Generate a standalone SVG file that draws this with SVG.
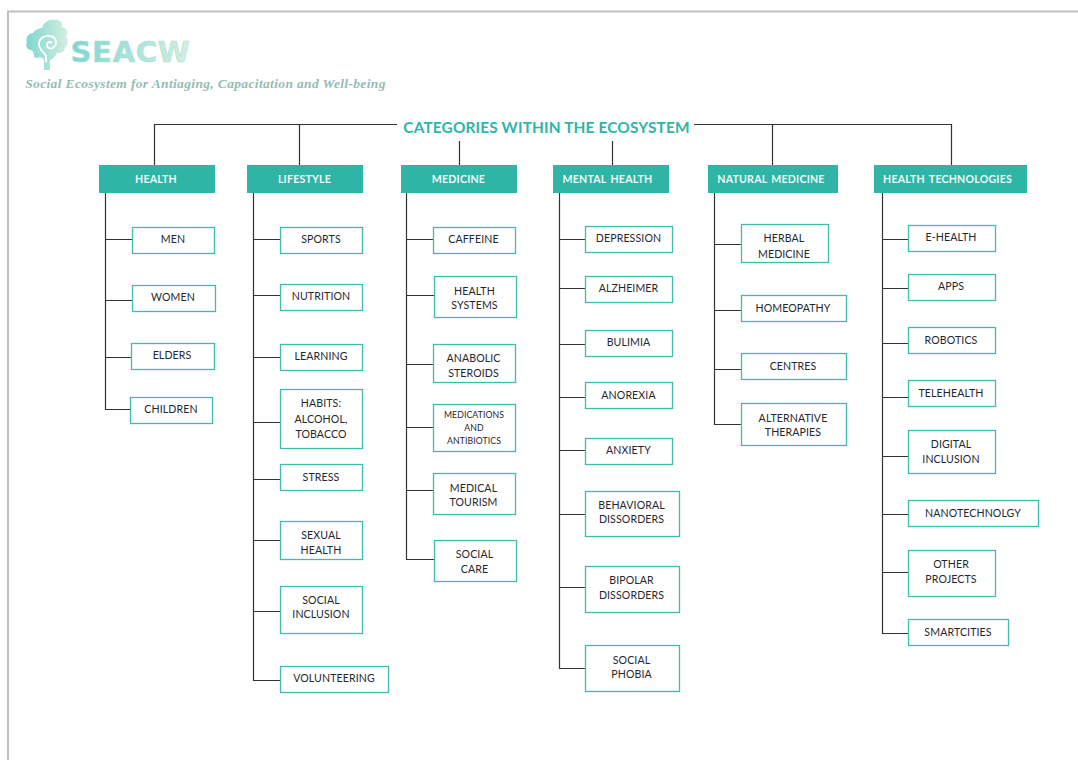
<svg xmlns="http://www.w3.org/2000/svg" width="1078" height="760" viewBox="0 0 1078 760">
<style>
text{font-family:"Lato","Carlito","Open Sans",sans-serif;text-anchor:middle}
.cat rect{fill:#2eb5a6;stroke:#2eb5a6;stroke-width:1}
.cat text{fill:#eefaf7;font-size:10.600px;font-weight:700;letter-spacing:.2px;word-spacing:1.500px}
.item rect{fill:#fff;stroke:#3dbdae;stroke-width:1.3}
.item text{fill:#1f2730;font-size:10.600px;letter-spacing:.1px}
.c{fill:none;stroke:#333;stroke-width:1.2}
</style>
<defs>
<linearGradient id="lg" x1="0" y1="0" x2="1" y2="0"><stop offset="0" stop-color="#7fd6cf"/><stop offset="1" stop-color="#d4eee0"/></linearGradient>
</defs>
<rect width="1078" height="760" fill="#fff"/>
<path d="M8 760V11.500H1078" fill="none" stroke="#c0c0c0" stroke-width="2"/>
<g id="logo">
<path d="M44 70 L44 60 C42 56 38 58 35 58 C33 55 35 52 31 50 C27 50 25 45 27 42 C25 38 29 33 33 33 C36 29 40 28 42 28 C44 22 50 18 55 20 C60 19 63 24 62 27 C67 28 69 33 66 37 C69 40 68 46 65 48 C64 53 60 53 57 53 C55 57 53 59 50 60 L50 70 Z" fill="url(#lg)"/>
<path d="M46 62V56C44 52 39 50 39 44C39 38 45 35 50 36C56 37 58 43 54 47C51 50 47 48 47 45C47 42 50 41 52 43" fill="none" stroke="#fff" stroke-width="1.800"/>
<text x="130.500" y="62" style="font-family:'DejaVu Sans',sans-serif;font-size:29px;font-weight:700;letter-spacing:.7px" fill="url(#lg)" stroke="#a8e2d6" stroke-width=".6">SEACW</text>
<text x="205.500" y="88" style="font-family:'Liberation Serif',serif;font-size:13.500px;font-style:italic;font-weight:700;letter-spacing:.35px" fill="#94bcb5">Social Ecosystem for Antiaging, Capacitation and Well-being</text>
</g>
<g id="connectors">
<path class="c" d="M397 124.500H154.500V165M299.500 124.500V165M694 124.500H951.500V165M772.500 124.500V165M459.500 141V165M612.500 141V165"/>
<path class="c" d="M105.500 192V409.500H130M105.500 239.500H132M105.500 300.500H132M105.500 357.500H131"/>
<path class="c" d="M253.500 192V680.500H280M253.500 239.500H280M253.500 295.500H280M253.500 357.500H280M253.500 422.500H280M253.500 479.500H280M253.500 540.500H280M253.500 611.500H280"/>
<path class="c" d="M406.500 192V559.500H434M406.500 239.500H433M406.500 295.500H434M406.500 364.500H433M406.500 427.500H433M406.500 490.500H433"/>
<path class="c" d="M559.500 192V668.500H585M559.500 239.500H585M559.500 288.500H585M559.500 344.500H585M559.500 397.500H585M559.500 450.500H585M559.500 514.500H585M559.500 587.500H585"/>
<path class="c" d="M714.500 192V424.500H741M714.500 244.500H741M714.500 310.500H741M714.500 369.500H741"/>
<path class="c" d="M882.500 192V633.500H908M882.500 239.500H908M882.500 288.500H908M882.500 343.500H908M882.500 397.500H908M882.500 456.500H908M882.500 514.500H908M882.500 572.500H908"/>
</g>
<text id="title" x="546.500" y="132.500" style="font-size:15.400px;font-weight:700;letter-spacing:.15px" fill="#2eb5a6">CATEGORIES WITHIN THE ECOSYSTEM</text>
<g id="cat-health" class="cat"><rect x="99.500" y="165.500" width="115" height="27"/><text x="156" y="183">HEALTH</text></g>
<g id="cat-lifestyle" class="cat"><rect x="247.500" y="165.500" width="115" height="27"/><text x="304.500" y="183">LIFESTYLE</text></g>
<g id="cat-medicine" class="cat"><rect x="401.500" y="165.500" width="115" height="27"/><text x="458.500" y="183">MEDICINE</text></g>
<g id="cat-mental" class="cat"><rect x="553.500" y="165.500" width="115" height="27"/><text x="607.500" y="183">MENTAL HEALTH</text></g>
<g id="cat-natural" class="cat"><rect x="708.500" y="165.500" width="129" height="27"/><text x="771" y="183">NATURAL MEDICINE</text></g>
<g id="cat-tech" class="cat"><rect x="874.500" y="165.500" width="152" height="27"/><text x="947.500" y="183">HEALTH TECHNOLOGIES</text></g>

<g id="men" class="item"><rect x="132.500" y="227.500" width="82" height="26"/><text x="173" y="243">MEN</text></g>
<g id="women" class="item"><rect x="132.500" y="285.500" width="83" height="26"/><text x="173" y="301">WOMEN</text></g>
<g id="elders" class="item"><rect x="131.500" y="343.500" width="83" height="26"/><text x="172" y="359">ELDERS</text></g>
<g id="children" class="item"><rect x="130.500" y="397.500" width="82" height="26"/><text x="171" y="413">CHILDREN</text></g>

<g id="sports" class="item"><rect x="280.500" y="227.500" width="82" height="26"/><text x="321" y="243">SPORTS</text></g>
<g id="nutrition" class="item"><rect x="280.500" y="284.500" width="82" height="26"/><text x="321" y="300">NUTRITION</text></g>
<g id="learning" class="item"><rect x="280.500" y="344.500" width="82" height="26"/><text x="321" y="360">LEARNING</text></g>
<g id="habits" class="item"><rect x="280.500" y="389.500" width="82" height="59"/><text x="321" y="407">HABITS:</text><text x="321" y="423">ALCOHOL,</text><text x="321" y="438">TOBACCO</text></g>
<g id="stress" class="item"><rect x="280.500" y="464.500" width="82" height="26"/><text x="321" y="481">STRESS</text></g>
<g id="sexual" class="item"><rect x="280.500" y="521.500" width="82" height="38"/><text x="321" y="539">SEXUAL</text><text x="321" y="554">HEALTH</text></g>
<g id="inclusion" class="item"><rect x="280.500" y="586.500" width="82" height="47"/><text x="321" y="604">SOCIAL</text><text x="321" y="618">INCLUSION</text></g>
<g id="volunteering" class="item"><rect x="280.500" y="666.500" width="108" height="26"/><text x="334" y="682">VOLUNTEERING</text></g>

<g id="caffeine" class="item"><rect x="433.500" y="227.500" width="82" height="26"/><text x="473.500" y="243">CAFFEINE</text></g>
<g id="systems" class="item"><rect x="434.500" y="276.500" width="82" height="41"/><text x="474.500" y="295">HEALTH</text><text x="474.500" y="309">SYSTEMS</text></g>
<g id="anabolic" class="item"><rect x="433.500" y="344.500" width="82" height="38"/><text x="473.500" y="362">ANABOLIC</text><text x="473.500" y="377">STEROIDS</text></g>
<g id="medications" class="item"><rect x="433.500" y="404.500" width="82" height="47"/><text x="474" y="418" style="font-size:8.700px">MEDICATIONS</text><text x="474" y="431" style="font-size:8.700px">AND</text><text x="474" y="444" style="font-size:8.700px">ANTIBIOTICS</text></g>
<g id="tourism" class="item"><rect x="433.500" y="473.500" width="82" height="41"/><text x="473.500" y="492">MEDICAL</text><text x="473.500" y="506">TOURISM</text></g>
<g id="care" class="item"><rect x="434.500" y="540.500" width="82" height="41"/><text x="474.500" y="558">SOCIAL</text><text x="474.500" y="573">CARE</text></g>

<g id="depression" class="item"><rect x="585.500" y="226.500" width="87" height="26"/><text x="628.500" y="242">DEPRESSION</text></g>
<g id="alzheimer" class="item"><rect x="585.500" y="276.500" width="87" height="26"/><text x="628.500" y="292">ALZHEIMER</text></g>
<g id="bulimia" class="item"><rect x="585.500" y="330.500" width="87" height="26"/><text x="628.500" y="346">BULIMIA</text></g>
<g id="anorexia" class="item"><rect x="585.500" y="382.500" width="87" height="26"/><text x="628.500" y="399">ANOREXIA</text></g>
<g id="anxiety" class="item"><rect x="585.500" y="438.500" width="87" height="26"/><text x="628.500" y="454">ANXIETY</text></g>
<g id="behavioral" class="item"><rect x="585.500" y="491.500" width="94" height="45"/><text x="631.500" y="509">BEHAVIORAL</text><text x="631.500" y="523">DISSORDERS</text></g>
<g id="bipolar" class="item"><rect x="585.500" y="566.500" width="94" height="46"/><text x="631.500" y="584">BIPOLAR</text><text x="631.500" y="599">DISSORDERS</text></g>
<g id="phobia" class="item"><rect x="585.500" y="645.500" width="94" height="46"/><text x="631.500" y="664">SOCIAL</text><text x="631.500" y="678">PHOBIA</text></g>

<g id="herbal" class="item"><rect x="741.500" y="224.500" width="87" height="38"/><text x="784" y="242">HERBAL</text><text x="784" y="258">MEDICINE</text></g>
<g id="homeopathy" class="item"><rect x="741.500" y="295.500" width="105" height="26"/><text x="793" y="311.500">HOMEOPATHY</text></g>
<g id="centres" class="item"><rect x="741.500" y="353.500" width="105" height="26"/><text x="793" y="370">CENTRES</text></g>
<g id="alternative" class="item"><rect x="741.500" y="403.500" width="105" height="42"/><text x="793" y="422">ALTERNATIVE</text><text x="793" y="436">THERAPIES</text></g>

<g id="ehealth" class="item"><rect x="908.500" y="225.500" width="87" height="26"/><text x="951" y="241">E-HEALTH</text></g>
<g id="apps" class="item"><rect x="908.500" y="274.500" width="87" height="26"/><text x="951" y="290">APPS</text></g>
<g id="robotics" class="item"><rect x="908.500" y="327.500" width="87" height="26"/><text x="951" y="343.500">ROBOTICS</text></g>
<g id="telehealth" class="item"><rect x="908.500" y="380.500" width="87" height="26"/><text x="951" y="397">TELEHEALTH</text></g>
<g id="digital" class="item"><rect x="908.500" y="430.500" width="87" height="43"/><text x="951" y="448">DIGITAL</text><text x="951" y="463">INCLUSION</text></g>
<g id="nano" class="item"><rect x="908.500" y="500.500" width="130" height="26"/><text x="973" y="517">NANOTECHNOLGY</text></g>
<g id="other" class="item"><rect x="908.500" y="550.500" width="87" height="46"/><text x="951" y="568">OTHER</text><text x="951" y="583">PROJECTS</text></g>
<g id="smart" class="item"><rect x="908.500" y="619.500" width="100" height="26"/><text x="958" y="636">SMARTCITIES</text></g>
</svg>
